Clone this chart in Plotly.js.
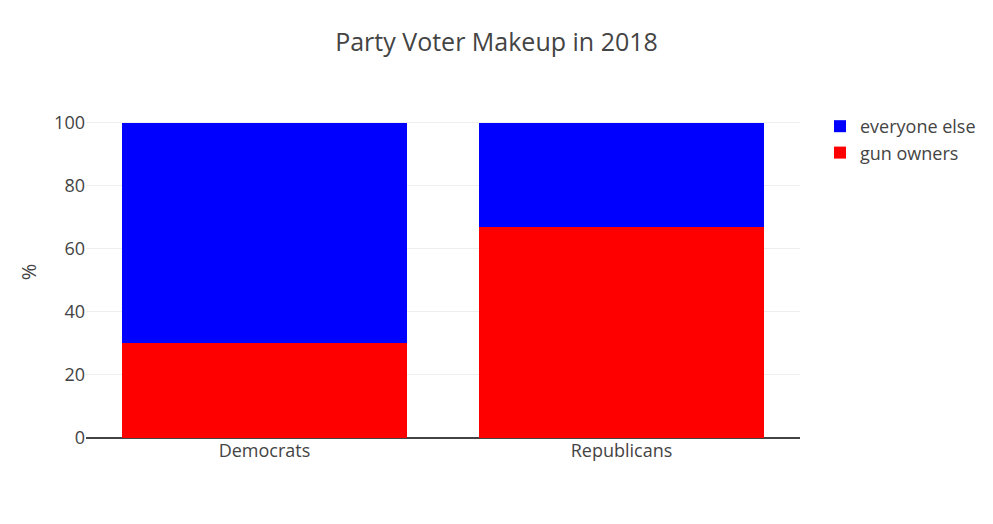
<!DOCTYPE html>
<html>
<head>
<meta charset="utf-8">
<script src="https://cdn.plot.ly/plotly-3.0.1.min.js"></script>
<style>html,body{margin:0;padding:0;background:#fff;}#chart{width:993px;height:524px;}</style>
</head>
<body>
<div id="chart"></div>
<script>
var parties = ["Democrats", "Republicans"];
var gunOwners = [30, 67];
var everyoneElse = [70, 33];
var yTicks = [0, 20, 40, 60, 80, 100];

var data = [
  {type: "bar", name: "gun owners", x: parties, y: gunOwners, marker: {color: "#ff0000"}},
  {type: "bar", name: "everyone else", x: parties, y: everyoneElse, marker: {color: "#0000ff"}}
];
var layout = {
  width: 993, height: 524,
  barmode: "stack",
  font: {family: "Open Sans, sans-serif", size: 18, color: "#444"},
  title: {text: "Party Voter Makeup in 2018", font: {size: 25}, x: 0.5, xanchor: "center", y: 0.92, yanchor: "middle"},
  margin: {l: 86, r: 190, t: 106, b: 86},
  xaxis: {tickfont: {size: 18}},
  yaxis: {title: {text: "%", font: {size: 20}}, range: [0, 105.26], tickvals: yTicks, gridcolor: "#eee", zerolinecolor: "#444", zerolinewidth: 2},
  legend: {x: 1.028, y: 0.994, font: {size: 18}},
  paper_bgcolor: "#fff", plot_bgcolor: "#fff",
  bargap: 0.2
};
Plotly.newPlot("chart", data, layout, {displayModeBar: false});
</script>
</body>
</html>
